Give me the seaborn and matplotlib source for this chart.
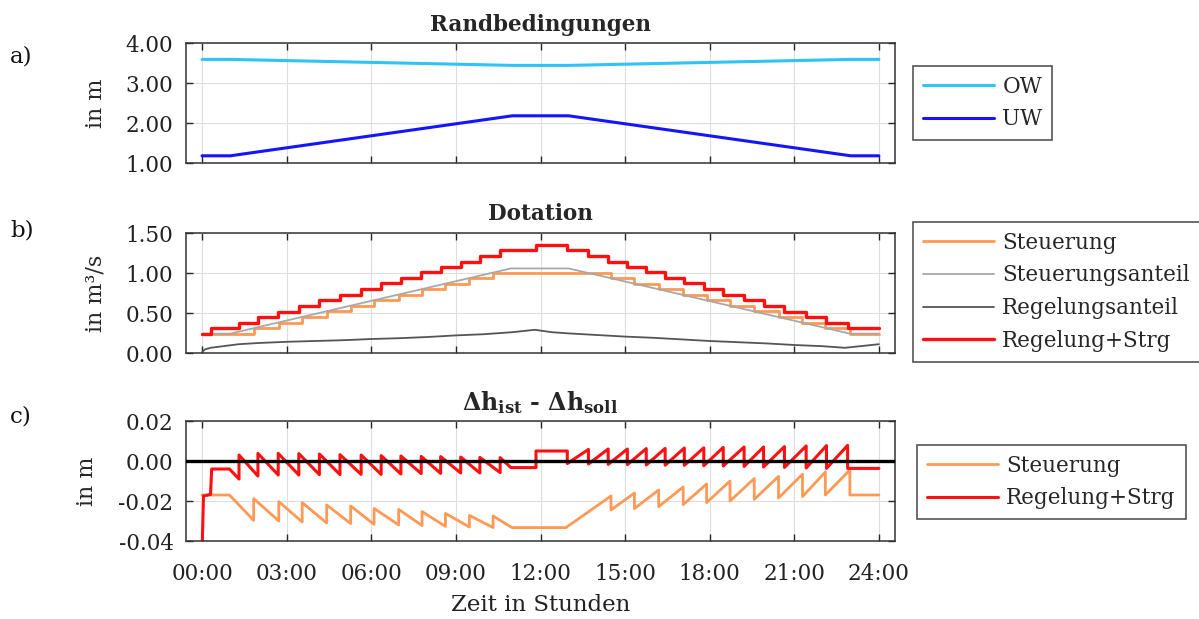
import matplotlib
matplotlib.use('Agg')
import matplotlib.pyplot as plt
import seaborn as sns

# Randbedingungen
rb_t = [0, 1, 11, 13, 23, 24]
ow = [3.59, 3.59, 3.44, 3.44, 3.59, 3.59]
uw = [1.18, 1.18, 2.18, 2.18, 1.18, 1.18]

# Dotation - Steuerung (Treppe)
steu_t = [0, 1.83, 2.72, 3.55, 4.42, 5.27, 6.10, 6.97, 7.80, 8.63, 9.48, 10.32,
          14.50, 15.33, 16.19, 17.06, 17.89, 18.72, 19.58, 20.44, 21.29, 22.10, 22.97, 24]
steu_q = [0.242, 0.307, 0.381, 0.451, 0.52, 0.59, 0.66, 0.73, 0.80, 0.865, 0.934, 1.0,
          0.934, 0.865, 0.80, 0.73, 0.66, 0.59, 0.52, 0.451, 0.381, 0.307, 0.242, 0.242]

# Steuerungsanteil
anteil_t = [0, 1.0, 10.95, 13.0, 22.97, 24]
anteil_q = [0.242, 0.242, 1.057, 1.057, 0.242, 0.242]

# Regelungsanteil
regant_t = [0, 0.1, 0.3, 1.3, 2.0, 3.0, 4.0, 5.0, 6.0, 7.0, 8.0, 9.0, 10.0, 11.0, 11.8,
            12.4, 13.0, 14.0, 15.0, 16.0, 17.0, 18.0, 19.0, 20.0, 21.0, 22.0, 22.8, 24.0]
regant_q = [0.01, 0.045, 0.065, 0.11, 0.125, 0.14, 0.15, 0.16, 0.175, 0.185, 0.20, 0.22,
            0.235, 0.26, 0.29, 0.26, 0.245, 0.225, 0.205, 0.19, 0.17, 0.15, 0.135, 0.12,
            0.10, 0.085, 0.065, 0.11]

# Regelung+Strg (Treppe)
reg_t = [0, 0.32, 1.31, 1.98, 2.70, 3.43, 4.16, 4.89, 5.64, 6.35, 7.05, 7.77, 8.46, 9.17,
         9.85, 10.57, 11.84, 12.95, 13.70, 14.40, 15.08, 15.75, 16.42, 17.10, 17.79, 18.48,
         19.22, 19.91, 20.65, 21.42, 22.14, 22.89, 24]
reg_q = [0.242, 0.307, 0.377, 0.447, 0.516, 0.59, 0.66, 0.73, 0.80, 0.87, 0.94, 1.008,
         1.078, 1.143, 1.213, 1.283, 1.352, 1.283, 1.213, 1.143, 1.078, 1.008, 0.94, 0.87,
         0.80, 0.73, 0.66, 0.59, 0.516, 0.447, 0.377, 0.307, 0.307]

# dh_ist - dh_soll, Steuerung
dh_steu_t = [0, 0.97, 1.83, 1.83, 2.72, 2.72, 3.55, 3.55, 4.42, 4.42, 5.27, 5.27, 6.10, 6.10,
             6.97, 6.97, 7.80, 7.80, 8.63, 8.63, 9.48, 9.48, 10.32, 10.32, 10.99, 12.9,
             14.50, 14.50, 15.33, 15.33, 16.19, 16.19, 17.06, 17.06, 17.89, 17.89, 18.72, 18.72,
             19.58, 19.58, 20.44, 20.44, 21.29, 21.29, 22.10, 22.10, 22.97, 22.97, 24]
dh_steu = [-0.017, -0.017, -0.0297, -0.0188, -0.030, -0.0203, -0.0305, -0.0208, -0.031, -0.022,
           -0.0313, -0.0225, -0.0317, -0.0237, -0.032, -0.0242, -0.0323, -0.0253, -0.0327, -0.0262,
           -0.033, -0.0272, -0.0333, -0.0275, -0.0333, -0.0333,
           -0.0175, -0.0245, -0.016, -0.0238, -0.0145, -0.0228, -0.013, -0.0218, -0.0115, -0.0208,
           -0.010, -0.020, -0.0088, -0.0192, -0.0077, -0.0185, -0.0066, -0.0178, -0.0055, -0.017,
           -0.0045, -0.017, -0.017]

# dh_ist - dh_soll, Regelung+Strg
dh_reg_t = [0, 0.05, 0.30, 0.34, 0.97, 1.31, 1.31, 1.98, 1.98, 2.70, 2.70, 3.43, 3.43,
            4.16, 4.16, 4.89, 4.89, 5.64, 5.64, 6.35, 6.35, 7.05, 7.05, 7.77, 7.77, 8.46, 8.46,
            9.17, 9.17, 9.85, 9.85, 10.57, 10.57, 10.95, 11.84, 11.84,
            12.95, 12.95, 13.70, 13.70, 14.40, 14.40, 15.08, 15.08, 15.75, 15.75, 16.42, 16.42,
            17.10, 17.10, 17.79, 17.79, 18.48, 18.48, 19.22, 19.22, 19.91, 19.91, 20.65, 20.65,
            21.42, 21.42, 22.14, 22.14, 22.89, 22.89, 24]
dh_reg = [-0.045, -0.0175, -0.0167, -0.004, -0.004, -0.009, 0.003, -0.0075, 0.0038, -0.007, 0.0038,
          -0.007, 0.0037, -0.0068, 0.0035, -0.0068, 0.0032, -0.0067, 0.003, -0.0067, 0.0027,
          -0.0065, 0.0025, -0.0063, 0.0023, -0.0062, 0.0022, -0.006, 0.002, -0.006, 0.0018,
          -0.0058, 0.0017, -0.0033, -0.0033, 0.005,
          0.005, -0.0013, 0.0058, -0.0015, 0.006, -0.0017, 0.006, -0.0018, 0.0062, -0.002,
          0.0063, -0.0021, 0.0065, -0.0022, 0.0066, -0.0024, 0.0068, -0.0025, 0.007, -0.0027,
          0.007, -0.003, 0.0072, -0.0032, 0.0075, -0.0035, 0.0077, -0.0037, 0.0078, -0.0037,
          -0.0037]

xticks = [0, 3, 6, 9, 12, 15, 18, 21, 24]
xticklabels = ['00:00', '03:00', '06:00', '09:00', '12:00', '15:00', '18:00', '21:00', '24:00']

sns.set_theme(style='ticks')
plt.rcParams['font.family'] = ['DejaVu Serif']
plt.rcParams['mathtext.fontset'] = 'dejavuserif'

W, H = 1199, 619
fig = plt.figure(figsize=(W / 100, H / 100), dpi=100)

def make_ax(top, bottom):
    ax = fig.add_axes([186 / W, 1 - bottom / H, (895 - 186) / W, (bottom - top) / H])
    ax.set_xlim(-0.57, 24.57)
    ax.set_xticks(xticks)
    ax.grid(True, color='#dedede', linewidth=0.8)
    ax.tick_params(direction='in', top=True, right=True, length=5, width=1,
                   colors='#262626', labelsize=15.5, labelcolor='#222222')
    ax.tick_params(axis='y', pad=9)
    ax.tick_params(axis='x', pad=16)
    for s in ax.spines.values():
        s.set_color('#333333')
        s.set_linewidth(1.1)
    return ax

ax_a = make_ax(43, 163)
ax_b = make_ax(233, 353)
ax_c = make_ax(421, 541)

common = dict(estimator=None, sort=False)

# a) Randbedingungen
sns.lineplot(x=rb_t, y=ow, ax=ax_a, color='#2fc4f5', linewidth=2.2, label='OW', **common)
sns.lineplot(x=rb_t, y=uw, ax=ax_a, color='#1414ff', linewidth=2.2, label='UW', **common)
ax_a.set_ylim(1, 4)
ax_a.set_yticks([1, 2, 3, 4])
ax_a.set_yticklabels(['1.00', '2.00', '3.00', '4.00'])
ax_a.set_xticklabels([])
ax_a.set_title('Randbedingungen', fontsize=15.5, fontweight='bold', pad=9)
ax_a.set_ylabel('in m', fontsize=16)
ax_a.yaxis.set_label_coords(-0.112, 0.5)

# b) Dotation
sns.lineplot(x=steu_t, y=steu_q, ax=ax_b, color='#ff9955', linewidth=2.0,
             drawstyle='steps-post', label='Steuerung', **common)
sns.lineplot(x=anteil_t, y=anteil_q, ax=ax_b, color='#a8a8a8', linewidth=1.3,
             label='Steuerungsanteil', **common)
sns.lineplot(x=regant_t, y=regant_q, ax=ax_b, color='#555555', linewidth=1.3,
             label='Regelungsanteil', **common)
sns.lineplot(x=reg_t, y=reg_q, ax=ax_b, color='#ff1010', linewidth=2.4,
             drawstyle='steps-post', label='Regelung+Strg', **common)
ax_b.set_ylim(0, 1.5)
ax_b.set_yticks([0, 0.5, 1.0, 1.5])
ax_b.set_yticklabels(['0.00', '0.50', '1.00', '1.50'])
ax_b.set_xticklabels([])
ax_b.set_title('Dotation', fontsize=15.5, fontweight='bold', pad=9)
ax_b.set_ylabel('in m³/s', fontsize=16)
ax_b.yaxis.set_label_coords(-0.112, 0.5)

# c) dh
sns.lineplot(x=dh_steu_t, y=dh_steu, ax=ax_c, color='#ff9955', linewidth=2.0,
             label='Steuerung', **common)
sns.lineplot(x=dh_reg_t, y=dh_reg, ax=ax_c, color='#ff1010', linewidth=2.2,
             label='Regelung+Strg', **common)
ax_c.axhline(0, color='black', linewidth=2.4, zorder=3)
ax_c.set_ylim(-0.04, 0.02)
ax_c.set_yticks([-0.04, -0.02, 0, 0.02])
ax_c.set_yticklabels(['-0.04', '-0.02', '0.00', '0.02'])
ax_c.set_xticklabels(xticklabels)
ax_c.set_title(r'$\mathbf{\Delta h_{ist}}$' + ' - ' + r'$\mathbf{\Delta h_{soll}}$',
               fontsize=17, fontweight='bold', pad=8)
ax_c.set_ylabel('in m', fontsize=16)
ax_c.yaxis.set_label_coords(-0.124, 0.5)
ax_c.set_xlabel('Zeit in Stunden', fontsize=16.5, labelpad=6, color='#222222')

leg_kw = dict(loc='upper left', bbox_transform=fig.transFigure, borderaxespad=0,
              fontsize=15.5, handlelength=3.3, handletextpad=0.4, labelspacing=0.5,
              frameon=True, fancybox=False, framealpha=1, edgecolor='#555555',
              borderpad=0.45)
for ax, (lx, ly) in [(ax_a, (913, 66)), (ax_b, (913, 222)), (ax_c, (917, 445))]:
    leg = ax.legend(bbox_to_anchor=(lx / W, 1 - ly / H), **leg_kw)
    leg.get_frame().set_linewidth(1.2)

for txt, y in [('a)', 56), ('b)', 231), ('c)', 417)]:
    fig.text(10 / W, 1 - y / H, txt, fontsize=16.5, va='center', ha='left', color='#111111')

fig.savefig('out.png', dpi=100)
